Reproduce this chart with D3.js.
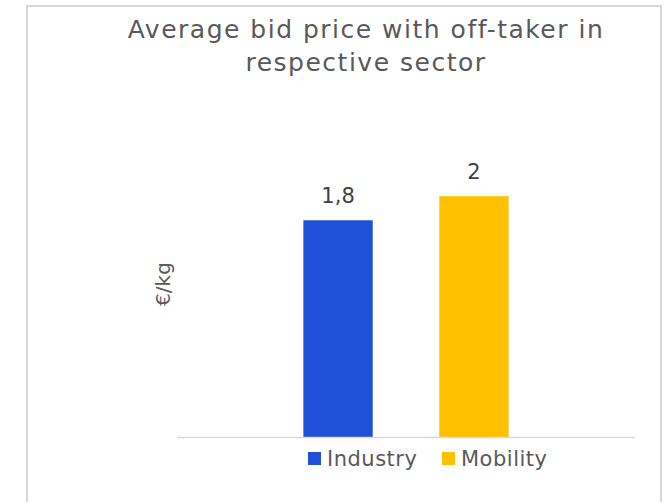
<!DOCTYPE html>
<html>
<head>
<meta charset="utf-8">
<script src="https://cdn.jsdelivr.net/npm/d3@7"></script>
<style>
  html, body { margin: 0; padding: 0; background: #fff; }
  svg { display: block; }
  text { font-family: "Century Gothic", "URW Gothic", "DejaVu Sans", sans-serif; }
</style>
</head>
<body>
<div id="chart"></div>
<script>
// data
const categories = ['']
const seriesNames = ['Industry', 'Mobility']
const seriesColors = ['#2050d8', '#ffc000']
const values = [1.8, 2]
const valueLabels = ['1,8', '2']
const titleLines = ['Average bid price with off-taker in', 'respective sector']
const yLabel = '€/kg'

const W = 667, H = 502
const plot = { left: 177, right: 635, top: 136, bottom: 437 }

const svg = d3.select('#chart').append('svg')
    .attr('width', W)
    .attr('height', H)

// chart frame (bottom edge is outside the picture)
svg.append('path')
    .attr('d', `M27,${H + 5} V6 H661 V${H + 5}`)
    .attr('fill', 'none')
    .attr('stroke', '#d9d9d9')
    .attr('stroke-width', 2)

const title = svg.append('text')
    .attr('text-anchor', 'middle')
    .attr('fill', '#595959')
    .style('font-size', '25px')
    .style('letter-spacing', '1.5px')
titleLines.forEach((t, i) => {
  title.append('tspan')
      .attr('x', 366)
      .attr('y', 38 + i * 33)
      .text(t)
})

const x0 = d3.scaleBand()
    .domain(categories)
    .range([plot.left, plot.right])
    .paddingInner(0)
    .paddingOuter(0)

const x1 = d3.scaleBand()
    .domain(seriesNames)
    .range([0, x0.bandwidth()])
    .paddingInner(0.49)
    .paddingOuter(0.93)

const y = d3.scaleLinear()
    .domain([0, 2.5])
    .range([plot.bottom, plot.top])

const rows = seriesNames.map((s, i) => ({ series: s, value: values[i], label: valueLabels[i], color: seriesColors[i] }))

const g = svg.append('g')
    .attr('transform', `translate(${x0(categories[0])},0)`)

g.selectAll('rect').data(rows).enter()
  .append('rect')
    .attr('x', (d) => x1(d.series))
    .attr('y', (d) => y(d.value))
    .attr('width', x1.bandwidth())
    .attr('height', (d) => y(0) - y(d.value))
    .attr('fill', (d) => d.color)

g.selectAll('text.val').data(rows).enter()
  .append('text')
    .attr('class', 'val')
    .attr('x', (d) => x1(d.series) + x1.bandwidth() / 2)
    .attr('y', (d) => y(d.value) - 17)
    .attr('text-anchor', 'middle')
    .attr('fill', '#404040')
    .style('font-size', '21px')
    .text((d) => d.label)

// category axis line only
svg.append('line')
    .attr('x1', plot.left)
    .attr('x2', plot.right)
    .attr('y1', y(0) + 0.5)
    .attr('y2', y(0) + 0.5)
    .attr('stroke', '#d9d9d9')
    .attr('stroke-width', 1.5)

svg.append('text')
    .attr('transform', 'translate(170,284) rotate(-90)')
    .attr('text-anchor', 'middle')
    .attr('fill', '#595959')
    .style('font-size', '20px')
    .text(yLabel)

// legend
const legendX = [308, 442]
const legend = svg.selectAll('g.legend').data(rows).enter()
  .append('g')
    .attr('class', 'legend')
    .attr('transform', (d, i) => `translate(${legendX[i]},452)`)
legend.append('rect')
    .attr('width', 13)
    .attr('height', 13)
    .attr('fill', (d) => d.color)
legend.append('text')
    .attr('x', 19)
    .attr('y', 14)
    .attr('fill', '#595959')
    .style('font-size', '21px')
    .style('letter-spacing', '0.5px')
    .text((d) => d.series)
</script>
</body>
</html>
